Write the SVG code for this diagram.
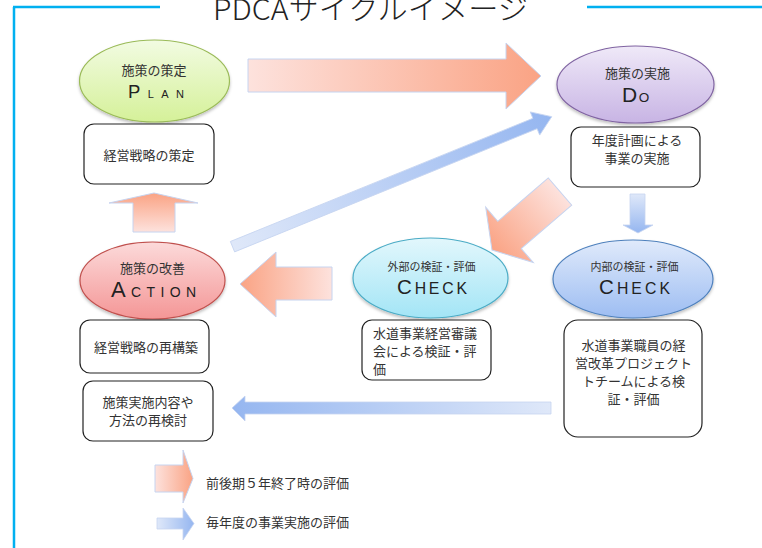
<svg xmlns="http://www.w3.org/2000/svg" width="762" height="548" viewBox="0 0 762 548">
<style>
.jp{font-family:"Noto Sans CJK JP","Noto Sans",sans-serif;fill:#333}
.t13{font-size:13px}
.t11{font-size:11px}
.lat{font-family:"Liberation Sans","DejaVu Sans",sans-serif;fill:#222}
.box{fill:#fff;stroke:#222;stroke-width:1.2}
.frame{stroke:#00b0f0;stroke-width:2.5;fill:none}
.ra{stroke:#c6d4f0;stroke-width:1}
.ba{stroke:#c6d4f0;stroke-width:0.8}
.ell{filter:url(#sh);stroke-width:1.2}
</style>
<defs>
<filter id="sh" x="-10%" y="-10%" width="120%" height="130%"><feDropShadow dx="0" dy="2" stdDeviation="1.5" flood-color="#000" flood-opacity="0.25"/></filter>
<linearGradient id="gGreen" x1="0" y1="0" x2="0" y2="1"><stop offset="0" stop-color="#f2fbe2"/><stop offset="1" stop-color="#d5f199"/></linearGradient>
<linearGradient id="gPurple" x1="0" y1="0" x2="0" y2="1"><stop offset="0" stop-color="#efe9f8"/><stop offset="1" stop-color="#c8b4e4"/></linearGradient>
<linearGradient id="gRed" x1="0" y1="0" x2="0" y2="1"><stop offset="0" stop-color="#fcdada"/><stop offset="1" stop-color="#f49696"/></linearGradient>
<linearGradient id="gCyan" x1="0" y1="0" x2="0" y2="1"><stop offset="0" stop-color="#e2f7fc"/><stop offset="1" stop-color="#a3e5f6"/></linearGradient>
<linearGradient id="gBlue" x1="0" y1="0" x2="0" y2="1"><stop offset="0" stop-color="#e0eafb"/><stop offset="1" stop-color="#9dbdf2"/></linearGradient>
<linearGradient id="rLR" x1="0" y1="0" x2="1" y2="0"><stop offset="0" stop-color="#fde2dd"/><stop offset="1" stop-color="#faa384"/></linearGradient>
<linearGradient id="rRL" x1="1" y1="0" x2="0" y2="0"><stop offset="0" stop-color="#fde2dd"/><stop offset="1" stop-color="#faa384"/></linearGradient>
<linearGradient id="rBT" x1="0" y1="1" x2="0" y2="0"><stop offset="0" stop-color="#fde2dd"/><stop offset="1" stop-color="#faa384"/></linearGradient>
<linearGradient id="bLR" x1="0" y1="0" x2="1" y2="0"><stop offset="0" stop-color="#dfe8f9"/><stop offset="1" stop-color="#95b6f0"/></linearGradient>
<linearGradient id="bRL" x1="1" y1="0" x2="0" y2="0"><stop offset="0" stop-color="#dfe8f9"/><stop offset="1" stop-color="#95b6f0"/></linearGradient>
<linearGradient id="bTB" x1="0" y1="0" x2="0" y2="1"><stop offset="0" stop-color="#dfe8f9"/><stop offset="1" stop-color="#95b6f0"/></linearGradient>
</defs>

<g id="frame">
<line class="frame" x1="14" y1="7" x2="14" y2="548"/>
<line class="frame" x1="13" y1="7" x2="160" y2="7"/>
<line class="frame" x1="587" y1="7" x2="762" y2="7"/>
<text class="jp" x="370.5" y="20" font-size="29" font-weight="300" text-anchor="middle" textLength="315" lengthAdjust="spacingAndGlyphs" style="fill:#222">PDCAサイクルイメージ</text>
</g>

<g id="connectors">
<polygon class="ra" fill="url(#rLR)" points="248,59 506,59 506,43 541,76 506,109 506,92 248,92"/>
<polygon class="ba" fill="url(#bLR)" transform="translate(232.5,246.7) rotate(-22.16)" points="0,-5.6 326.6,-5.6 326.6,-12.5 344.7,0 326.6,12.5 326.6,5.6 0,5.6"/>
<polygon class="ra" fill="url(#rLR)" transform="translate(560,191.5) rotate(139.3)" points="0,-18 66.6,-18 66.6,-36.5 89.7,0 66.6,36.5 66.6,18 0,18"/>
<polygon class="ba" fill="url(#bTB)" points="630,194 645,194 645,225 653,225 638,233 623,225 630,225"/>
<polygon class="ra" fill="url(#rRL)" points="332,267 276,267 276,252 240,284 276,317 276,300 332,300"/>
<polygon class="ra" fill="url(#rBT)" points="133,232 133,203 109,203 154,193 198,203 175,203 175,232"/>
<polygon class="ba" fill="url(#bRL)" points="551,402 245,402 245,396 232,408 245,421 245,414 551,414"/>
</g>

<g id="plan">
<ellipse class="ell" cx="154.5" cy="81" rx="75" ry="41" fill="url(#gGreen)" stroke="#9bbb59"/>
<text class="jp t13" x="154" y="75" text-anchor="middle">施策の策定</text>
<text class="lat" x="128" y="98" textLength="56" lengthAdjust="spacing"><tspan font-size="18.5">P</tspan><tspan font-size="11">LAN</tspan></text>
</g>
<g id="plan-box">
<rect class="box" x="84" y="124" width="130" height="60" rx="10"/>
<text class="jp t13" x="149" y="160" text-anchor="middle">経営戦略の策定</text>
</g>

<g id="do">
<ellipse class="ell" cx="635.5" cy="84.5" rx="78.5" ry="38.5" fill="url(#gPurple)" stroke="#8064a2"/>
<text class="jp t13" x="637.5" y="78" text-anchor="middle">施策の実施</text>
<text class="lat" x="622" y="102" letter-spacing="1.5"><tspan font-size="21">D</tspan><tspan font-size="13.5">O</tspan></text>
</g>
<g id="do-box">
<rect class="box" x="571" y="127" width="129" height="60" rx="10"/>
<text class="jp t13" x="637" y="145" text-anchor="middle">年度計画による</text>
<text class="jp t13" x="637" y="163" text-anchor="middle">事業の実施</text>
</g>

<g id="action">
<ellipse class="ell" cx="152.5" cy="280.5" rx="72.5" ry="38.5" fill="url(#gRed)" stroke="#c0504d"/>
<text class="jp t13" x="152.5" y="273" text-anchor="middle">施策の改善</text>
<text class="lat" x="111" y="297" textLength="85" lengthAdjust="spacing"><tspan font-size="22">A</tspan><tspan font-size="14">CTION</tspan></text>
</g>
<g id="action-box1">
<rect class="box" x="80" y="320" width="129" height="53" rx="10"/>
<text class="jp t13" x="146" y="352" text-anchor="middle">経営戦略の再構築</text>
</g>
<g id="action-box2">
<rect class="box" x="83" y="381" width="130" height="60" rx="10"/>
<text class="jp t13" x="148" y="407" text-anchor="middle">施策実施内容や</text>
<text class="jp t13" x="148" y="425" text-anchor="middle">方法の再検討</text>
</g>

<g id="check-ext">
<ellipse class="ell" cx="430.5" cy="278" rx="77.5" ry="40" fill="url(#gCyan)" stroke="#4bacc6"/>
<text class="jp t11" x="431.5" y="271" text-anchor="middle">外部の検証・評価</text>
<text class="lat" x="397" y="294" textLength="70" lengthAdjust="spacing"><tspan font-size="20.5">C</tspan><tspan font-size="15.8">HECK</tspan></text>
</g>
<g id="check-ext-box">
<rect class="box" x="362" y="320" width="129" height="60" rx="10"/>
<text class="jp t13" x="373" y="338">水道事業経営審議</text>
<text class="jp t13" x="373" y="356">会による検証・評</text>
<text class="jp t13" x="373" y="374">価</text>
</g>

<g id="check-int">
<ellipse class="ell" cx="633" cy="279" rx="80" ry="39" fill="url(#gBlue)" stroke="#4f81bd"/>
<text class="jp t11" x="634.5" y="271" text-anchor="middle">内部の検証・評価</text>
<text class="lat" x="599" y="294" textLength="71" lengthAdjust="spacing"><tspan font-size="20.5">C</tspan><tspan font-size="15.8">HECK</tspan></text>
</g>
<g id="check-int-box">
<rect class="box" x="564" y="320" width="138" height="117" rx="14"/>
<text class="jp t13" x="633.5" y="350" text-anchor="middle">水道事業職員の経</text>
<text class="jp t13" x="633.5" y="368" text-anchor="middle">営改革プロジェクト</text>
<text class="jp t13" x="633.5" y="386" text-anchor="middle">トチームによる検</text>
<text class="jp t13" x="633.5" y="404" text-anchor="middle">証・評価</text>
</g>

<g id="legend">
<polygon class="ra" fill="url(#rLR)" points="155,465 183,465 183,450 193,478.5 183,503 183,492 155,492"/>
<text class="jp" font-size="13" x="206" y="488">前後期５年終了時の評価</text>
<polygon class="ba" fill="url(#bLR)" points="157,518 183,518 183,508 194,523.5 183,540 183,529 157,529"/>
<text class="jp" font-size="13" x="206" y="527">毎年度の事業実施の評価</text>
</g>
</svg>
